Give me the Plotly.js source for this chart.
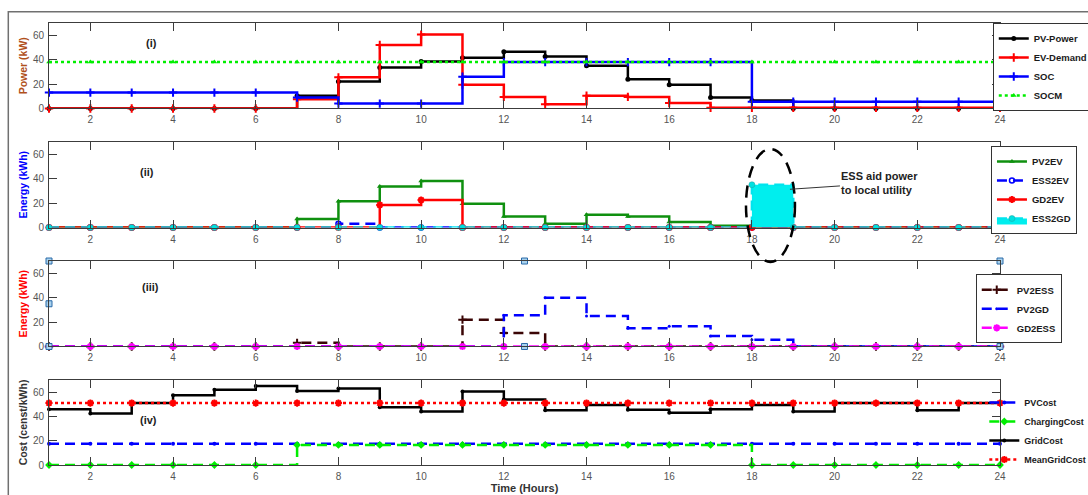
<!DOCTYPE html>
<html>
<head>
<meta charset="utf-8">
<script src="https://cdn.plot.ly/plotly-3.0.1.min.js"></script>
<style>html,body{margin:0;padding:0;background:#fff;}#chart{width:1088px;height:495px;}</style>
</head>
<body>
<div id="chart"></div>
<script>
// ---------- data ----------
const hours = [1,2,3,4,5,6,7,8,9,10,11,12,13,14,15,16,17,18,19,20,21,22,23,24];
const xTicks = [2,4,6,8,10,12,14,16,18,20,22,24];
const yTicks = [0,20,40,60];

// panel (i)
const pvPower   = [0,0,0,0,0,0,10.5,22,33.5,38.5,41.5,46.5,42.5,35,24,19.5,9,6.5,0,0,0,0,0,0];
const evDemand  = [0,0,0,0,0,0,7.5,25.5,52,60.5,19.5,9.5,3.5,10.5,9.5,4.5,0.5,0.5,0.5,0.5,0.5,0.5,0.5,0.5];
const soc       = [13,13,13,13,13,13,9,4,4,4,26,38,38,38,38,38,38,5.5,5.5,5.5,5.5,5.5,5.5,5.5];
const socm      = [38,38,38,38,38,38,38,38,38,38,38,38,38,38,38,38,38,38,38,38,38,38,38,38];

// panel (ii)
const pv2ev     = [0,0,0,0,0,0,7,21.5,33.5,38,19.5,9,3,10.5,9,4.5,1.5,0,0,0,0,0,0,0];
const ess2ev    = [0,0,0,0,0,0,0,3,0,0,0,0,0,0,0,0,0,0,0,0,0,0,0,0];
const gd2ev     = [0,0,0,0,0,0,0,0,18.5,22.5,0,0,0,0,0,0,0,0,0,0,0,0,0,0];
const ess2gd    = [0,0,0,0,0,0,0,0,0,0,0,0,0,0,0,0,0,35,0,0,0,0,0,0];

// panel (iii)
const pv2ess    = [0,0,0,0,0,0,3,0,0,0,22,11,0,0,0,0,0,0,0,0,0,0,0,0];
const pv2gd     = [0,0,0,0,0,0,0,0,0,0,0,25.5,40,25,15,16.5,8.5,5.5,0,0,0,0,0,0];
const gd2ess    = [0,0,0,0,0,0,0,0,0,0,0,0,0,0,0,0,0,0,0,0,0,0,0,0];
const handleX   = [1,12.5,24,1,1,12.5,24];
const handleY   = [70,70,70,35,0,0,0];

// panel (iv)
const pvCost       = [17.5,17.5,17.5,17.5,17.5,17.5,17.5,17.5,17.5,17.5,17.5,17.5,17.5,17.5,17.5,17.5,17.5,17.5,17.5,17.5,17.5,17.5,17.5,17.5];
const chargingCost = [0,0,0,0,0,0,16.5,16.5,16.5,16.5,16.5,16.5,16.5,16.5,16.5,16.5,16.5,0,0,0,0,0,0,0];
const gridCost     = [46,42.5,51,57.5,62,65,61,63,47.5,44,60.5,54,45,49.5,45.5,43,46,49.5,44,51,51,45,51,51];
const meanGridCost = [51,51,51,51,51,51,51,51,51,51,51,51,51,51,51,51,51,51,51,51,51,51,51,51];

// ---------- helpers ----------
const FONT = 'Liberation Sans, Arial, Helvetica, sans-serif';
function stair(y, name, color, opts) {
  opts = opts || {};
  return {
    x: hours, y: y, name: name, type: 'scatter', mode: 'lines+markers',
    line: {shape: 'hv', color: color, width: opts.width || 2.5, dash: opts.dash || 'solid'},
    marker: Object.assign({color: color, size: 5}, opts.marker || {}),
    xaxis: opts.xaxis, yaxis: opts.yaxis, legend: opts.legend,
    fill: opts.fill, fillcolor: opts.fillcolor,
    cliponaxis: false, hoverinfo: 'x+y+name'
  };
}
const DASH = '10px,6px';

const traces = [
  stair(pvPower, 'PV-Power', '#000000', {xaxis:'x', yaxis:'y', legend:'legend', marker:{symbol:'circle', size:5}}),
  stair(evDemand, 'EV-Demand', '#ff0000', {xaxis:'x', yaxis:'y', legend:'legend', marker:{symbol:'cross-thin-open', size:6, line:{color:'#ff0000', width:2}}}),
  stair(soc, 'SOC', '#0000ff', {xaxis:'x', yaxis:'y', legend:'legend', marker:{symbol:'cross-thin-open', size:6, line:{color:'#0000ff', width:2}}}),
  stair(socm, 'SOCM', '#00ee00', {xaxis:'x', yaxis:'y', legend:'legend', dash:'dot', width:2.5, marker:{symbol:'triangle-up', size:5}}),

  stair(pv2ev, 'PV2EV', '#0f900f', {xaxis:'x2', yaxis:'y2', legend:'legend2', marker:{symbol:'triangle-up', size:5}}),
  stair(ess2ev, 'ESS2EV', '#0000ff', {xaxis:'x2', yaxis:'y2', legend:'legend2', dash:DASH, marker:{symbol:'circle-open', size:5, line:{color:'#0000ff', width:1.5}}}),
  stair(gd2ev, 'GD2EV', '#ff0000', {xaxis:'x2', yaxis:'y2', legend:'legend2', marker:{symbol:'asterisk-open', size:6, line:{color:'#ff0000', width:2}}}),
  stair(ess2gd, 'ESS2GD', '#00e5ee', {xaxis:'x2', yaxis:'y2', legend:'legend2', dash:DASH, fill:'tozeroy', fillcolor:'#00eeee', marker:{symbol:'circle', size:6, color:'#00e0e0', line:{color:'#20a0a0', width:0.5}}}),

  stair(pv2ess, 'PV2ESS', '#3a0505', {xaxis:'x3', yaxis:'y3', legend:'legend3', dash:DASH, marker:{symbol:'cross-thin-open', size:6, line:{color:'#3a0505', width:2}}}),
  stair(pv2gd, 'PV2GD', '#0000ff', {xaxis:'x3', yaxis:'y3', legend:'legend3', dash:DASH, marker:{symbol:'circle', size:3}}),
  stair(gd2ess, 'GD2ESS', '#ff00ff', {xaxis:'x3', yaxis:'y3', legend:'legend3', dash:DASH, marker:{symbol:'asterisk-open', size:6, line:{color:'#ff00ff', width:2}}}),
  {x: handleX, y: handleY, xaxis:'x3', yaxis:'y3', type:'scatter', mode:'markers', showlegend:false, hoverinfo:'skip', cliponaxis:false,
   marker:{symbol:'square', size:6, color:'#a9d2ee', line:{color:'#2a6aa8', width:1}}},

  stair(pvCost, 'PVCost', '#0000ff', {xaxis:'x4', yaxis:'y4', legend:'legend4', dash:DASH, marker:{symbol:'circle', size:4}}),
  stair(chargingCost, 'ChargingCost', '#00ee00', {xaxis:'x4', yaxis:'y4', legend:'legend4', dash:DASH, marker:{symbol:'diamond', size:6}}),
  stair(gridCost, 'GridCost', '#000000', {xaxis:'x4', yaxis:'y4', legend:'legend4', marker:{symbol:'circle', size:4}}),
  stair(meanGridCost, 'MeanGridCost', '#ff0000', {xaxis:'x4', yaxis:'y4', legend:'legend4', dash:'dot', marker:{symbol:'asterisk-open', size:6, line:{color:'#ff0000', width:2}}})
];

function xAxis(anchor, withTitle) {
  const a = {
    domain:[0,1], anchor: anchor, range:[1,24], tickmode:'array', tickvals: xTicks, ticktext: xTicks.map(String),
    ticks:'inside', ticklen:8, tickwidth:1, tickcolor:'#3c3c3c',
    showline:true, linecolor:'#3c3c3c', linewidth:1, mirror:'ticks',
    showgrid:false, zeroline:false, ticklabelstandoff:2,
    tickfont:{family:FONT, size:10, color:'#555555'}
  };
  if (withTitle) a.title = {text:'<b>Time (Hours)</b>', font:{family:FONT, size:11, color:'#333333'}, standoff:3};
  return a;
}
function yAxis(anchor, domain, title, color) {
  return {
    domain: domain, anchor: anchor, range:[0,70], tickmode:'array', tickvals: yTicks, ticktext: yTicks.map(String),
    ticks:'inside', ticklen:8, tickwidth:1, tickcolor:'#3c3c3c',
    showline:true, linecolor:'#3c3c3c', linewidth:1, mirror:'ticks',
    showgrid:false, zeroline:false, ticklabelstandoff:2,
    tickfont:{family:FONT, size:10, color:'#555555'},
    title:{text:'<b>'+title+'</b>', font:{family:FONT, size:10.5, color:color}, standoff:3}
  };
}
function legendAt(x, y, border, bg, size) {
  return {
    x: x, y: y, xanchor:'left', yanchor:'top', xref:'paper', yref:'paper',
    bgcolor: bg, bordercolor: border ? '#333333' : 'rgba(0,0,0,0)', borderwidth: border ? 1 : 0,
    font:{family:FONT, size:size || 9.5, color:'#1a1a1a', weight:'bold'}, itemwidth:30, tracegroupgap:0
  };
}

const annFont = {family:FONT, size:11, color:'#222222'};
const layout = {
  width:1088, height:495,
  margin:{l:49, r:88, t:23, b:30, pad:0, autoexpand:false},
  paper_bgcolor:'#ffffff', plot_bgcolor:'#ffffff',
  font:{family:FONT},
  showlegend:true,
  xaxis: xAxis('y', false),
  xaxis2: xAxis('y2', false),
  xaxis3: xAxis('y3', false),
  xaxis4: xAxis('y4', true),
  yaxis:  yAxis('x',  [0.8066, 1.0],    'Power (kW)',        '#b0501c'),
  yaxis2: yAxis('x2', [0.5373, 0.7308], 'Energy (kWh)',      '#0000ff'),
  yaxis3: yAxis('x3', [0.2681, 0.4615], 'Energy (kWh)',      '#ff0000'),
  yaxis4: yAxis('x4', [0.0,    0.1923], 'Cost (censt/kWh)',  '#333333'),
  legend:  legendAt(0.9924, 1.0, true, '#ffffff'),
  legend2: legendAt(0.9905, 0.7217, true, '#ffffff'),
  legend3: legendAt(0.9745, 0.4314, true, '#ffffff'),
  legend4: legendAt(0.9835, 0.1742, false, 'rgba(255,255,255,0)', 9),
  annotations: [
    {xref:'x', yref:'y', x:3.48, y:53.6, text:'<b>(i)</b>', showarrow:false, font:annFont},
    {xref:'x2', yref:'y2', x:3.37, y:45.5, text:'<b>(ii)</b>', showarrow:false, font:annFont},
    {xref:'x3', yref:'y3', x:3.46, y:48.6, text:'<b>(iii)</b>', showarrow:false, font:annFont},
    {xref:'x4', yref:'y4', x:3.4, y:37, text:'<b>(iv)</b>', showarrow:false, font:annFont},
    {xref:'x2', yref:'y2', x:18.92, y:31.3, ax:90, ay:-6, text:'<b>ESS aid power<br>to local utility</b>',
     align:'left', showarrow:true, arrowhead:0, arrowwidth:1, arrowcolor:'#333333', font:annFont}
  ],
  shapes: [
    {type:'rect', xref:'paper', yref:'paper', x0:-0.0428, x1:1.3, y0:-0.3, y1:1.0256, layer:'below',
     line:{color:'#707070', width:1.5}, fillcolor:'rgba(0,0,0,0)'},
    {type:'circle', xref:'paper', yref:'paper', x0:0.7329, x1:0.7844, y0:0.4593, y1:0.7149, layer:'above',
     line:{color:'#000000', width:2.5, dash:'12px,8px'}, fillcolor:'rgba(0,0,0,0)'}
  ]
};

Plotly.newPlot('chart', traces, layout, {displayModeBar:false, staticPlot:true});
</script>
</body>
</html>
